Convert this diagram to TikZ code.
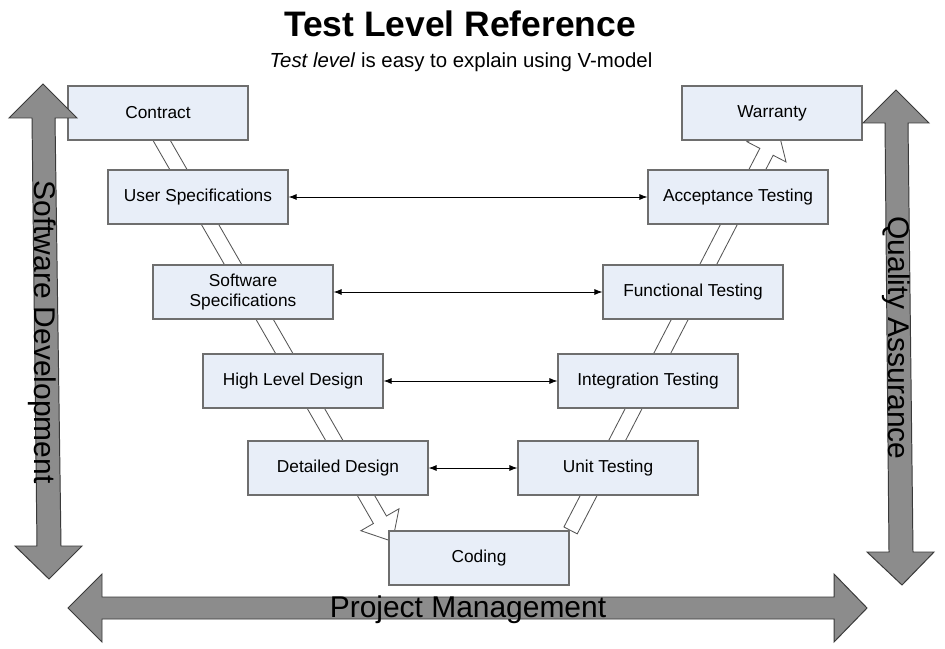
\documentclass[tikz,border=0pt]{standalone}
\usepackage{fontspec}
\setmainfont{Liberation Sans}
\usetikzlibrary{arrows.meta,calc,backgrounds}

\definecolor{boxfill}{HTML}{E8EEF8}
\definecolor{boxline}{HTML}{6E6E6E}
\definecolor{bandline}{HTML}{555555}
\definecolor{bigfill}{HTML}{8C8C8C}
\definecolor{bigline}{HTML}{3A3A3A}

\begin{document}
\begin{tikzpicture}
    [
        x=0.025cm, y=-0.025cm,
        stage/.style={draw=boxline, line width=0.8pt, fill=boxfill,
            minimum width=4.5cm, minimum height=1.35cm, inner sep=0pt,
            align=center, font=\fontsize{12.3}{14.2}\selectfont},
        link/.style={{Latex[length=0.2cm,width=0.15cm]}-{Latex[length=0.2cm,width=0.15cm]},
            line width=0.6pt},
        vband/.style={draw=bandline, line width=0.6pt, fill=white},
        bigarrow/.style={draw=bigline, line width=0.7pt, fill=bigfill},
        biglabel/.style={font=\fontsize{21.3}{25}\selectfont, anchor=base, inner sep=0pt},
    ]

    \useasboundingbox (0,0) rectangle (945,649);

    \node [font=\fontsize{25.2}{30}\selectfont\bfseries, anchor=base] (title) at (460,37) {Test Level Reference};
    \node [font=\fontsize{14.5}{17}\selectfont, anchor=base] (subtitle) at (461,68) {\textit{Test level} is easy to explain using V-model};

    \foreach \name/\x/\y/\txt in
    {contract/158/113/Contract, userspec/198/197/User Specifications,
     swspec/243/292/{Software\\Specifications}, hldesign/293/381/High Level Design,
     detdesign/338/468/Detailed Design, coding/479/558/Coding,
     unittest/608/468/Unit Testing, inttest/648/381/Integration Testing,
     functest/693/292/Functional Testing, accept/738/197/Acceptance Testing,
     warranty/772/113/Warranty}
    {
        \node [stage] (\name) at (\x, \y) {\txt};
    }

    \foreach \a/\b in {userspec/accept, swspec/functest, hldesign/inttest, detdesign/unittest} {
        \draw [link] (\a) -- (\b);
    }

    \coordinate (vl0) at ($(contract.south)+(-2,-10)$);
    \coordinate (vl1) at ($(coding.north west)+(4,11)$);
    \coordinate (vr0) at ($(coding.north east)+(1,0)$);
    \coordinate (vr1) at ($(warranty.south)+(6,-11)$);

    \begin{pgfonlayer}{background}
        \fill [white] (0,0) rectangle (945,649);
        \foreach \a/\b in {vl0/vl1, vr0/vr1} {
            \draw [vband] let \p1 = ($(\b)-(\a)$), \n1 = {atan2(\y1,\x1)}, \n2 = {veclen(\x1,\y1)} in
                ($(\a)+({\n1+90}:0.1875cm)$)
                -- ($(\a)+(\n1:{\n2-0.625cm})+({\n1+90}:0.1875cm)$)
                -- ($(\a)+(\n1:{\n2-0.625cm})+({\n1+90}:0.55cm)$)
                -- (\b)
                -- ($(\a)+(\n1:{\n2-0.625cm})+({\n1-90}:0.55cm)$)
                -- ($(\a)+(\n1:{\n2-0.625cm})+({\n1-90}:0.1875cm)$)
                -- ($(\a)+({\n1-90}:0.1875cm)$) -- cycle;
        }
    \end{pgfonlayer}

    \draw [bigarrow] (43,84) -- (77,118) -- (55,118) -- (61,546) -- (82,546) -- (49,579)
        -- (15,546) -- (37,546) -- (32,118) -- (9,118) -- cycle;
    \draw [bigarrow] (896,90) -- (929,123) -- (908,123) -- (913,552) -- (934,552) -- (902,585)
        -- (867,552) -- (889,552) -- (885,123) -- (863,123) -- cycle;
    \draw [bigarrow] (68,608) -- (102,574) -- (102,597) -- (834,597) -- (834,574) -- (867,608)
        -- (834,642) -- (834,619) -- (102,619) -- (102,642) -- cycle;

    \node [biglabel, rotate=-90] (swdev) at (34,332) {Software Development};
    \node [biglabel, rotate=-90] (qa) at (888,338) {Quality Assurance};
    \node [biglabel] (pm) at (468,617) {Project Management};

\end{tikzpicture}
\end{document}
